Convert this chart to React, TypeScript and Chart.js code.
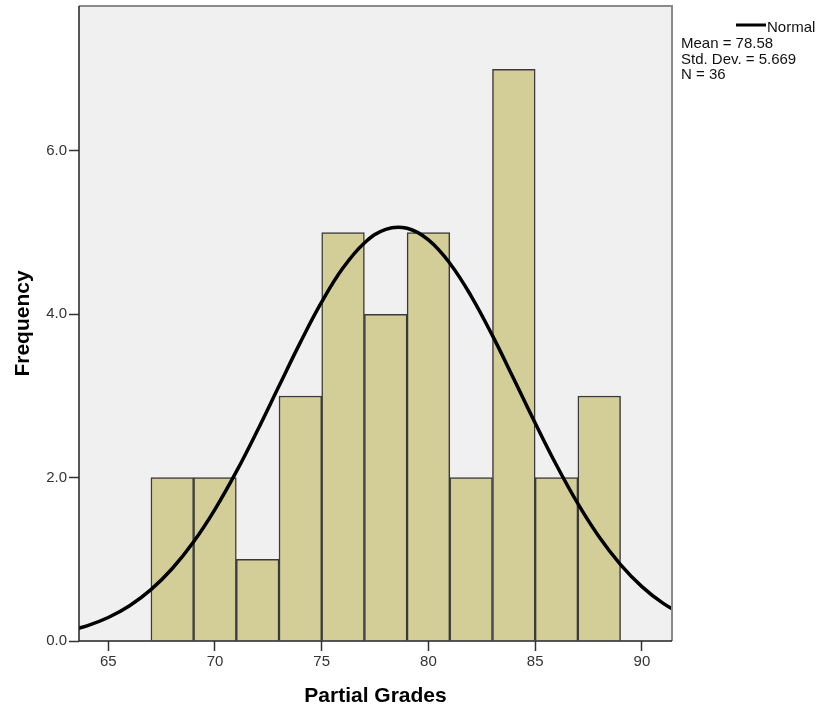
import React, { useEffect, useRef } from "react";
import { Chart, registerables } from "chart.js";

Chart.register(...registerables);

// Histogram bins (centers) and frequencies
const binCenters = [68, 70, 72, 74, 76, 78, 80, 82, 84, 86, 88];
const frequencies = [2, 2, 1, 3, 5, 4, 5, 2, 7, 2, 3];

// Normal curve values
const curveX = [63, 64, 65, 66, 67, 68, 69, 70, 71, 72, 73, 74, 75, 76, 77, 78, 79, 80, 81, 82, 83, 84, 85, 86, 87, 88, 89, 90, 91, 92];
const curveY = [0.116, 0.186, 0.288, 0.432, 0.629, 0.888, 1.215, 1.612, 2.073, 2.584, 3.122, 3.656, 4.151, 4.569, 4.874, 5.041, 5.053, 4.911, 4.626, 4.224, 3.739, 3.208, 2.669, 2.152, 1.682, 1.274, 0.936, 0.666, 0.46, 0.308];

const xTicks = [65, 70, 75, 80, 85, 90];
const yTicks = [0, 2, 4, 6];

const legendLines = ["Mean = 78.58", "Std. Dev. = 5.669", "N = 36"];
const xTitle = "Partial Grades";
const yTitle = "Frequency";

const FONT = "'Liberation Sans', Arial, sans-serif";

const decorPlugin = {
  id: "decor",
  beforeDatasetsDraw(chart: any) {
    const { ctx, chartArea } = chart;
    ctx.save();
    ctx.fillStyle = "#f0f0f0";
    ctx.fillRect(chartArea.left, chartArea.top, chartArea.right - chartArea.left, chartArea.bottom - chartArea.top);
    ctx.restore();
  },
  afterDraw(chart: any) {
    const { ctx, chartArea } = chart;
    const { left, right, top, bottom } = chartArea;
    ctx.save();
    // border
    ctx.strokeStyle = "#8a8a8a";
    ctx.lineWidth = 2;
    ctx.beginPath();
    ctx.moveTo(left, top);
    ctx.lineTo(right, top);
    ctx.lineTo(right, bottom);
    ctx.stroke();
    ctx.strokeStyle = "#222";
    ctx.lineWidth = 1.5;
    ctx.beginPath();
    ctx.moveTo(left, top);
    ctx.lineTo(left, bottom);
    ctx.lineTo(right, bottom);
    ctx.stroke();

    // titles
    ctx.fillStyle = "#000";
    ctx.font = `bold 21px ${FONT}`;
    ctx.textAlign = "center";
    ctx.textBaseline = "middle";
    ctx.fillText(xTitle, (left + right) / 2, 696);
    ctx.save();
    ctx.translate(23, (top + bottom) / 2);
    ctx.rotate(-Math.PI / 2);
    ctx.fillText(yTitle, 0, 0);
    ctx.restore();

    // legend
    ctx.strokeStyle = "#000";
    ctx.lineWidth = 3;
    ctx.beginPath();
    ctx.moveTo(736, 25);
    ctx.lineTo(766, 25);
    ctx.stroke();
    ctx.font = `15px ${FONT}`;
    ctx.textAlign = "left";
    ctx.textBaseline = "middle";
    ctx.fillStyle = "#111";
    ctx.fillText("Normal", 767, 28);
    legendLines.forEach((t, i) => {
      ctx.fillText(t, 681, 44 + i * 15.5);
    });
    ctx.restore();
  },
};

export default function App() {
  const ref = useRef<HTMLCanvasElement | null>(null);
  useEffect(() => {
    if (!ref.current) return;
    const chart = new Chart(ref.current, {
      type: "bar",
      data: {
        datasets: [
          {
            type: "line",
            data: curveX.map((x, i) => ({ x, y: curveY[i] })),
            borderColor: "#000",
            borderWidth: 3.5,
            pointRadius: 0,
            tension: 0.4,
            fill: false,
            order: 0,
          } as any,
          {
            type: "bar",
            data: binCenters.map((x, i) => ({ x, y: frequencies[i] })),
            backgroundColor: "#d3ce98",
            borderColor: "#3a3a3a",
            borderWidth: 1.5,
            barPercentage: 1,
            categoryPercentage: 1,
            order: 1,
          } as any,
        ],
      },
      options: {
        animation: false,
        responsive: false,
        maintainAspectRatio: false,
        layout: { padding: { left: 0, right: 146, top: 6, bottom: 0 } },
        plugins: { legend: { display: false }, tooltip: { enabled: false } },
        scales: {
          x: {
            type: "linear",
            min: 63.63,
            max: 91.41,
            offset: false,
            afterBuildTicks: (s: any) => {
              s.ticks = xTicks.map((v) => ({ value: v }));
            },
            afterFit: (s: any) => {
              s.height = 68;
              s.paddingLeft = 0;
              s.paddingRight = 0;
            },
            ticks: {
              color: "#333",
              font: { family: FONT, size: 15 },
              padding: 2,
              maxRotation: 0,
              autoSkip: false,
            },
            grid: { offset: false, drawOnChartArea: false, drawTicks: true, tickLength: 10, color: "#333", tickWidth: 1.5 } as any,
            border: { display: false },
          },
          y: {
            type: "linear",
            min: 0,
            max: 7.775,
            afterBuildTicks: (s: any) => {
              s.ticks = yTicks.map((v) => ({ value: v }));
            },
            afterFit: (s: any) => {
              s.width = 79;
              s.paddingTop = 0;
              s.paddingBottom = 0;
            },
            ticks: {
              color: "#333",
              font: { family: FONT, size: 15 },
              padding: 2,
              callback: (v: any) => Number(v).toFixed(1),
            },
            grid: { drawOnChartArea: false, drawTicks: true, tickLength: 10, color: "#333", tickWidth: 1.5 } as any,
            border: { display: false },
          },
        },
      } as any,
      plugins: [decorPlugin],
    });
    return () => chart.destroy();
  }, []);
  return (
    <div style={{ position: "fixed", left: 0, top: 0, width: 818, height: 709, background: "#fff" }}>
      <canvas ref={ref} width={818} height={709} style={{ width: 818, height: 709, display: "block" }} />
    </div>
  );
}
